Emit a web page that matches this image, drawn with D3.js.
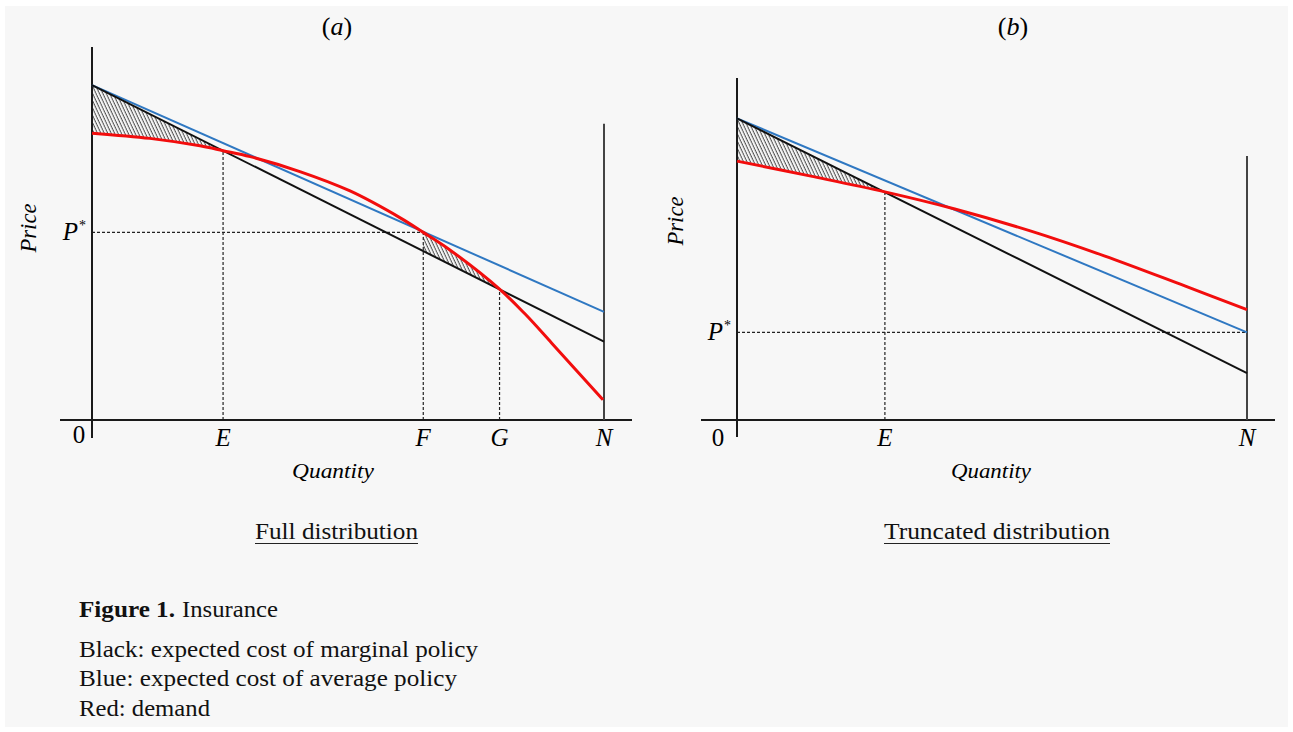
<!DOCTYPE html>
<html><head><meta charset="utf-8">
<script src="https://cdn.jsdelivr.net/npm/d3@7"></script>
<style>body{margin:0;background:#fff}svg{display:block}</style>
</head><body><svg id="c" width="1293" height="732"></svg>
<script>
// ---------- data ----------
const panelTitles = ["a", "b"];
const panelSubtitles = ["Full distribution", "Truncated distribution"];
const axisTitleX = "Quantity";
const axisTitleY = "Price";
const originLabel = "0";

// panel (a): full distribution
const aBlackQ = [0, 100], aBlackP = [89.8, 21.0];
const aBlueQ = [0, 100], aBlueP = [89.8, 29.0];
const aRedQ = [0, 11.3, 21.1, 25.6, 30.9, 40.6, 50.4, 60.2, 64.7, 69.9, 79.6, 84.6, 89.8, 99.8];
const aRedP = [76.9, 75.5, 73.5, 72.2, 70.6, 66.6, 61.4, 54.2, 50.3, 45.6, 35.1, 28.4, 20.6, 5.4];
const aTickQ = [25.6, 64.7, 79.6, 100];
const aTickLabels = ["E", "F", "G", "N"];
const aDropTopP = [72.2, 50.3, 35.1];
const aPStar = 50.3;
const aPStarEndQ = 64.7;
const aHatchRanges = [[0, 25.6], [64.7, 79.6]];
const aNTopP = 79.4;

// panel (b): truncated distribution
const bBlackQ = [0, 100], bBlackP = [88.2, 13.7];
const bBlueQ = [0, 100], bBlueP = [88.2, 25.6];
const bRedQ = [0, 14.5, 29.0, 42.7, 57.5, 72.0, 87.8, 100];
const bRedP = [75.7, 71.3, 66.7, 61.7, 55.3, 48.0, 39.2, 32.3];
const bTickQ = [29.0, 100];
const bTickLabels = ["E", "N"];
const bDropTopP = [66.7];
const bPStar = 25.6;
const bPStarEndQ = 100;
const bHatchRanges = [[0, 29.0]];
const bNTopP = 77.2;

const captionBold = "Figure 1.";
const captionRest = "Insurance";
const captionLines = [
  "Black: expected cost of marginal policy",
  "Blue: expected cost of average policy",
  "Red: demand"
];

// ---------- drawing ----------
const svg = d3.select("#c");
svg.append("rect").attr("x", 5).attr("y", 6).attr("width", 1283).attr("height", 721).attr("fill", "#f7f7f7");

const defs = svg.append("defs");
const pat = defs.append("pattern").attr("id", "hatch")
  .attr("patternUnits", "userSpaceOnUse").attr("width", 3.1).attr("height", 12)
  .attr("patternTransform", "rotate(-25)");
pat.append("line").attr("x1", 1).attr("y1", 0).attr("x2", 1).attr("y2", 12)
  .attr("stroke", "#3a3a3a").attr("stroke-width", 0.9);

const C_BLACK = "#111", C_BLUE = "#2f78c2", C_RED = "#f20d0d";
const curve = d3.curveCatmullRom.alpha(0.5);

function zip(a, b) { return a.map((v, i) => [v, b[i]]); }
function txt(g) { return g.append("text").style("font-family", '"Liberation Serif"'); }

function drawPanel(p, id) {
  const g = svg.append("g");
  const x = d3.scaleLinear().domain([0, 100]).range(p.xRange);
  const y = d3.scaleLinear().domain([0, 100]).range(p.yRange);
  const blackAt = d3.scaleLinear().domain(p.blackQ).range(p.blackP);
  const red = zip(p.redQ, p.redP);

  const area = d3.area().x(d => x(d[0])).y0(d => y(d[1])).y1(d => y(blackAt(d[0]))).curve(curve);
  p.hatch.forEach((r, i) => {
    const cid = "clip" + id + i;
    defs.append("clipPath").attr("id", cid).append("rect")
      .attr("x", x(r[0])).attr("y", 0).attr("width", x(r[1]) - x(r[0])).attr("height", 732);
    g.append("path").attr("d", area(red)).attr("fill", "url(#hatch)").attr("clip-path", `url(#${cid})`);
  });

  const dl = (x1, y1, x2, y2) => g.append("line").attr("x1", x1).attr("y1", y1).attr("x2", x2).attr("y2", y2)
    .attr("stroke", "#222").attr("stroke-width", 1.2).attr("stroke-dasharray", "3,2");
  dl(x(0), y(p.pStar), x(p.pStarEndQ), y(p.pStar));
  p.dropTopP.forEach((tp, i) => dl(x(p.tickQ[i]), y(0), x(p.tickQ[i]), y(tp)));

  g.append("line").attr("x1", p.xAxisExt[0]).attr("x2", p.xAxisExt[1]).attr("y1", y(0)).attr("y2", y(0))
    .attr("stroke", "#1a1a1a").attr("stroke-width", 2);
  g.append("line").attr("x1", x(0)).attr("x2", x(0)).attr("y1", p.yAxisBottom).attr("y2", y(100))
    .attr("stroke", "#1a1a1a").attr("stroke-width", 2);
  g.append("line").attr("x1", x(100)).attr("x2", x(100)).attr("y1", y(0)).attr("y2", y(p.nTopP))
    .attr("stroke", "#444").attr("stroke-width", 2);

  const line = d3.line().x(d => x(d[0])).y(d => y(d[1]));
  g.append("path").attr("d", line(zip(p.blueQ, p.blueP))).attr("fill", "none").attr("stroke", C_BLUE).attr("stroke-width", 2);
  g.append("path").attr("d", line(zip(p.blackQ, p.blackP))).attr("fill", "none").attr("stroke", C_BLACK).attr("stroke-width", 2);
  g.append("path").attr("d", line.curve(curve)(red)).attr("fill", "none").attr("stroke", C_RED).attr("stroke-width", 3);

  p.tickLabels.forEach((t, i) => {
    txt(g).attr("x", x(p.tickQ[i])).attr("y", 446).attr("text-anchor", "middle")
      .attr("font-style", "italic").attr("font-size", 25).text(t);
  });
  txt(g).attr("x", p.zeroX).attr("y", p.zeroY).attr("text-anchor", "middle").attr("font-size", 25).text(originLabel);

  const ps = txt(g).attr("x", p.pLabelX).attr("y", y(p.pStar) + 8).attr("text-anchor", "end").attr("font-size", 25);
  ps.append("tspan").attr("font-style", "italic").text("P");
  ps.append("tspan").attr("font-size", 14).attr("dy", -10).attr("dx", 1).text("*");

  txt(g).attr("transform", `translate(${p.priceX},${p.priceY}) rotate(-90)`)
    .attr("text-anchor", "middle").attr("font-style", "italic")
    .attr("font-size", 23).attr("textLength", 49).attr("lengthAdjust", "spacingAndGlyphs").text(axisTitleY);
  txt(g).attr("x", p.qX - p.qW / 2).attr("y", 478).attr("font-style", "italic").attr("font-size", 22)
    .attr("textLength", p.qW).attr("lengthAdjust", "spacingAndGlyphs").text(axisTitleX);

  const t = txt(g).attr("x", p.titleX).attr("y", 35).attr("text-anchor", "middle").attr("font-size", 26);
  t.append("tspan").text("(");
  t.append("tspan").attr("font-style", "italic").text(p.title);
  t.append("tspan").text(")");

  txt(g).attr("x", p.subX[0]).attr("y", 539).attr("font-size", 23.5)
    .attr("textLength", p.subX[1] - p.subX[0]).attr("lengthAdjust", "spacingAndGlyphs").attr("fill", "#111").text(p.subtitle);
  g.append("line").attr("x1", p.subX[0]).attr("x2", p.subX[1]).attr("y1", 543.5).attr("y2", 543.5)
    .attr("stroke", "#222").attr("stroke-width", 1.1);
}

drawPanel({
  xRange: [92, 604], yRange: [420, 47], xAxisExt: [60, 632], yAxisBottom: 438,
  blackQ: aBlackQ, blackP: aBlackP, blueQ: aBlueQ, blueP: aBlueP, redQ: aRedQ, redP: aRedP,
  tickQ: aTickQ, tickLabels: aTickLabels, dropTopP: aDropTopP, pStar: aPStar, pStarEndQ: aPStarEndQ,
  hatch: aHatchRanges, nTopP: aNTopP,
  zeroX: 79, zeroY: 443, pLabelX: 86, priceX: 36, priceY: 228, qX: 333, qW: 82,
  titleX: 337, title: panelTitles[0], subtitle: panelSubtitles[0], subX: [255, 418]
}, "a");

drawPanel({
  xRange: [737, 1247], yRange: [420, 78], xAxisExt: [701, 1275], yAxisBottom: 437,
  blackQ: bBlackQ, blackP: bBlackP, blueQ: bBlueQ, blueP: bBlueP, redQ: bRedQ, redP: bRedP,
  tickQ: bTickQ, tickLabels: bTickLabels, dropTopP: bDropTopP, pStar: bPStar, pStarEndQ: bPStarEndQ,
  hatch: bHatchRanges, nTopP: bNTopP,
  zeroX: 718, zeroY: 446, pLabelX: 731, priceX: 683, priceY: 221, qX: 991, qW: 80,
  titleX: 1013, title: panelTitles[1], subtitle: panelSubtitles[1], subX: [884, 1110]
}, "b");

const cap = svg.append("g").attr("fill", "#111");
txt(cap).attr("x", 79).attr("y", 617).attr("font-size", 22.5).attr("font-weight", "bold")
  .attr("textLength", 96).attr("lengthAdjust", "spacingAndGlyphs").text(captionBold);
txt(cap).attr("x", 182).attr("y", 617).attr("font-size", 22.5)
  .attr("textLength", 96).attr("lengthAdjust", "spacingAndGlyphs").text(captionRest);
const capW = [399, 378, 131];
const capY = [657, 686, 716];
captionLines.forEach((s, i) => {
  txt(cap).attr("x", 79).attr("y", capY[i]).attr("font-size", 22.5)
    .attr("textLength", capW[i]).attr("lengthAdjust", "spacingAndGlyphs").text(s);
});
</script>
</body></html>
